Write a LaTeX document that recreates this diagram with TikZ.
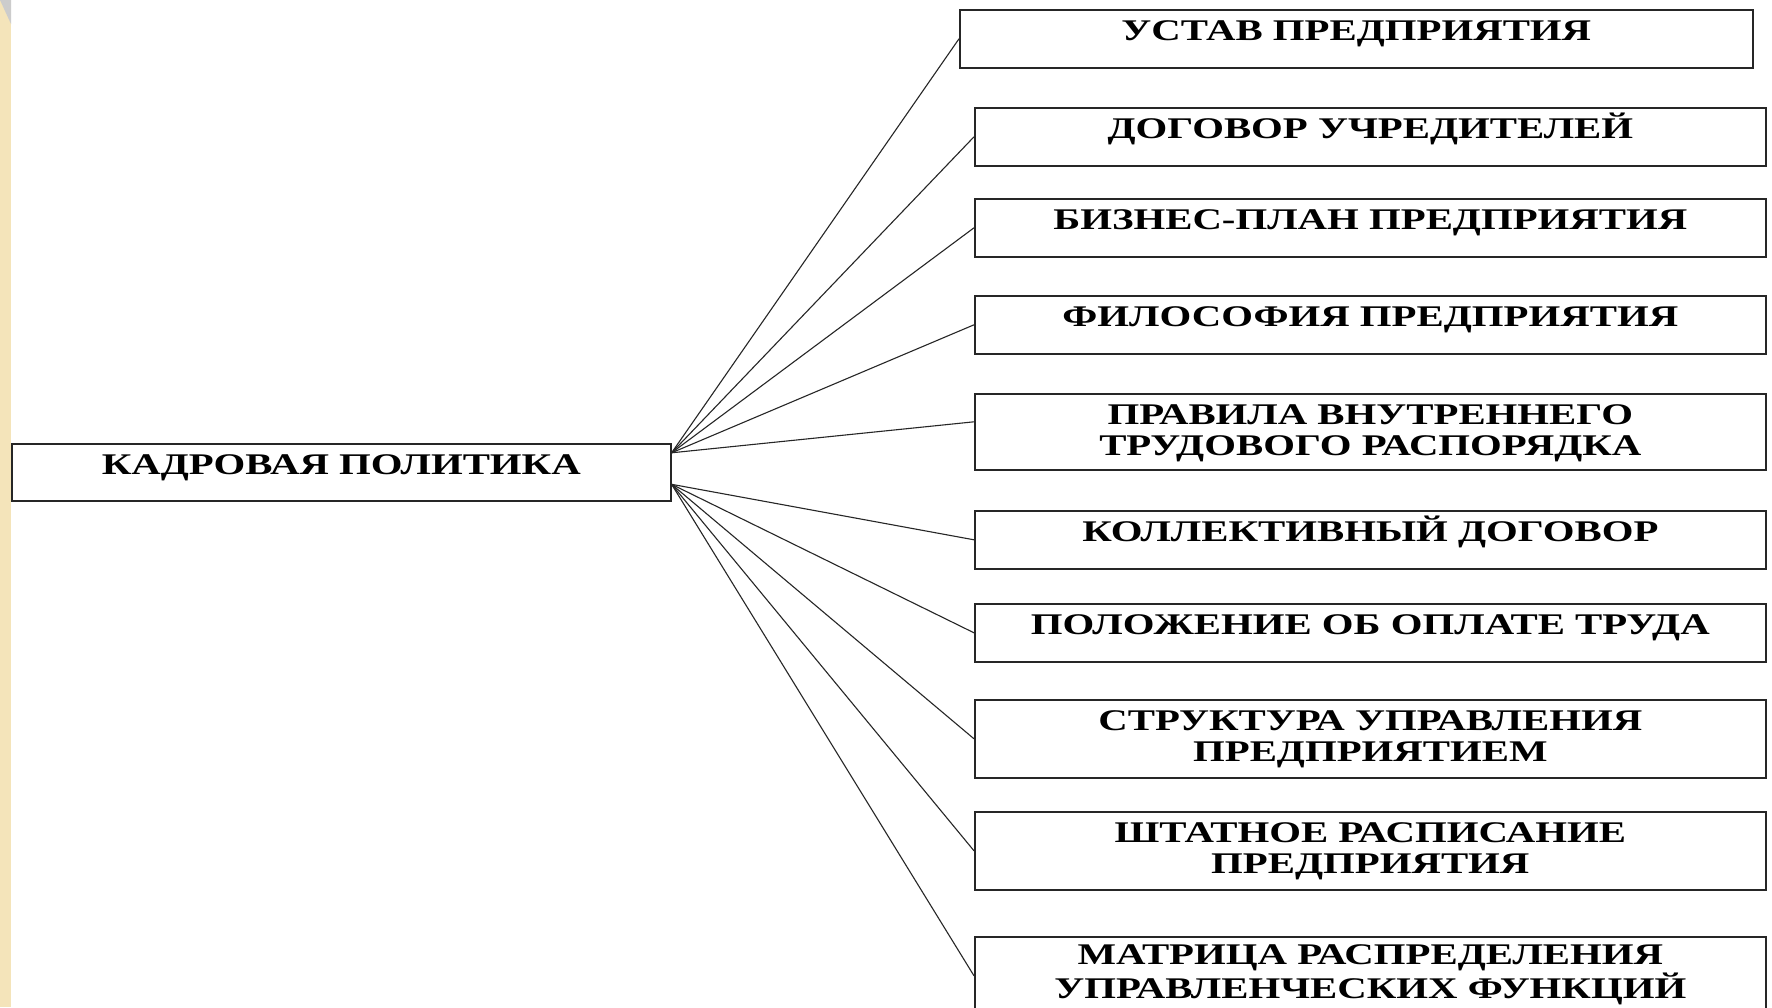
\documentclass[tikz,border=0pt]{standalone}
\usepackage{fontspec}
\setmainfont{Liberation Serif}[FakeStretch=1.36]
\usetikzlibrary{positioning}
\definecolor{strip}{RGB}{244,228,186}

\begin{document}
\begin{tikzpicture}[x=0.5pt, y=-0.5pt,
        box/.style={draw=black!85, line width=.8pt, anchor=north west, align=center,
          inner xsep=2pt, inner ysep=5pt, text height=10.5pt, text depth=8.5pt,
          font=\fontsize{15}{15.4}\selectfont\bfseries},
        item/.style={box, minimum width=395.5pt},
        item2/.style={item, text height=25.9pt, text depth=3.1pt},
        link/.style={draw=black!85, line width=.55pt}]

      \useasboundingbox (0,0) rectangle (1772,1007);
      \clip (0,0) rectangle (1772,1007);
      \fill[white] (0,0) rectangle (1772,1007);

      % slide border on the left
      \fill[strip] (0,0) rectangle (11,1007);
      \fill[black!20] (0,0) -- (11,0) -- (11,24) -- cycle;

      % root
      \node[box, minimum width=329.5pt, text depth=8pt] (policy) at (11,443) {КАДРОВАЯ ПОЛИТИКА};
      \coordinate (up) at ([yshift=9.75pt]policy.east);
      \coordinate (dn) at ([yshift=-6pt]policy.east);

      % documents
      \node[item, minimum width=396.5pt] (d1) at (959,9) {УСТАВ ПРЕДПРИЯТИЯ};
      \node[item] (d2) at (974,107) {ДОГОВОР УЧРЕДИТЕЛЕЙ};
      \node[item] (d3) at (974,198) {БИЗНЕС-ПЛАН ПРЕДПРИЯТИЯ};
      \node[item] (d4) at (974,295) {ФИЛОСОФИЯ ПРЕДПРИЯТИЯ};
      \node[item2, text depth=2.1pt] (d5) at (974,393) {ПРАВИЛА ВНУТРЕННЕГО\\ТРУДОВОГО РАСПОРЯДКА};
      \node[item] (d6) at (974,510) {КОЛЛЕКТИВНЫЙ ДОГОВОР};
      \node[item] (d7) at (974,603) {ПОЛОЖЕНИЕ ОБ ОПЛАТЕ ТРУДА};
      \node[item2] (d8) at (974,699) {СТРУКТУРА УПРАВЛЕНИЯ\\ПРЕДПРИЯТИЕМ};
      \node[item2] (d9) at (974,811) {ШТАТНОЕ РАСПИСАНИЕ\\ПРЕДПРИЯТИЯ};
      \node[item2] (d10) at (974,936) {МАТРИЦА РАСПРЕДЕЛЕНИЯ\\УПРАВЛЕНЧЕСКИХ ФУНКЦИЙ};

      % fans
      \draw[link] (up) -- (d1.west);
      \draw[link] (up) -- (d2.west);
      \draw[link] (up) -- (d3.west);
      \draw[link] (up) -- (d4.west);
      \draw[link] (up) -- ([yshift=5pt]d5.west);
      \draw[link] (dn) -- (d6.west);
      \draw[link] (dn) -- (d7.west);
      \draw[link] (dn) -- (d8.west);
      \draw[link] (dn) -- (d9.west);
      \draw[link] (dn) -- (d10.west);
    \end{tikzpicture}
\end{document}
